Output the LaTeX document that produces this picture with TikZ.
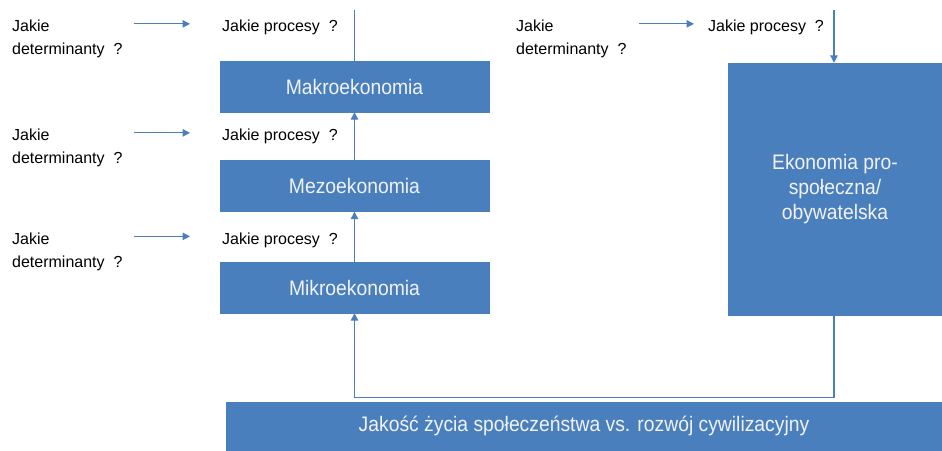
\documentclass[tikz,border=0pt]{standalone}
\usepackage{fontspec}
\setmainfont{Liberation Sans}
\newfontfamily\econfont[FakeStretch=0.92]{Liberation Sans}
\usepackage{tikz}
\usetikzlibrary{
    arrows.meta,
    positioning,
}
\definecolor{econblue}{RGB}{74,127,190}
\definecolor{econtext}{RGB}{242,242,242}
\tikzset{
    econbox/.style = {
        rectangle,
        fill=econblue,
        draw=econblue,
        text=econtext,
        font=\econfont\fontsize{21}{25}\selectfont,
        align=center,
        inner sep=0pt,
    },
    question/.style = {
        font=\fontsize{16}{23}\selectfont,
        align=left,
        inner sep=0pt,
        anchor=base west,
    },
}
\tikzstyle{arrow} = [
    line width=1.2pt,
    draw=econblue,
    ->,
    >={Triangle[length=7.5pt,width=7.5pt]}
]
\tikzstyle{plainline} = [
    line width=1.2pt,
    draw=econblue,
]

\begin{document}
\begin{tikzpicture}[x=1pt,y=-1pt]
        \useasboundingbox (0,0) rectangle (942,450);

        % economy levels
        \node [econbox, minimum width=269pt, minimum height=51pt] (makro) at (354.5,86.5)
        {Makroekonomia};

        \node [econbox, minimum width=269pt, minimum height=51pt] (mezo) at (354.5,186)
        {Mezoekonomia};

        \node [econbox, minimum width=269pt, minimum height=51pt] (mikro) at (354.5,287.5)
        {Mikroekonomia};

        \node [econbox, minimum width=214pt, minimum height=252pt] (prospol) at (835,189)
        {Ekonomia pro-\\społeczna/\\obywatelska};

        \node [econbox, minimum width=716pt, minimum height=48pt] (jakosc) at (584,426)
        {Jakość życia społeczeństwa vs. rozwój cywilizacyjny};

        % questions (base = last line)
        \node [question] (det1) at (12,54.5) {Jakie\\determinanty\ \ ?};
        \node [question] (proc1) at (222,31.5) {Jakie procesy\ \ ?};

        \node [question] (det2) at (12,163.5) {Jakie\\determinanty\ \ ?};
        \node [question] (proc2) at (222,140.5) {Jakie procesy\ \ ?};

        \node [question] (det3) at (12,267) {Jakie\\determinanty\ \ ?};
        \node [question] (proc3) at (222,244) {Jakie procesy\ \ ?};

        \node [question] (det4) at (516,54.5) {Jakie\\determinanty\ \ ?};
        \node [question] (proc4) at (708,31.5) {Jakie procesy\ \ ?};

        \coordinate (topmakro) at (354.5,10);
        \coordinate (topprospol) at (834,10);

        \draw [arrow, shorten <=11pt, shorten >=32pt] ([yshift=3.5pt]proc1.west -| det1.east) -- ([yshift=3.5pt]proc1.west);
        \draw [arrow, shorten <=11pt, shorten >=32pt] ([yshift=3.5pt]proc2.west -| det2.east) -- ([yshift=3.5pt]proc2.west);
        \draw [arrow, shorten <=11pt, shorten >=32pt] ([yshift=3.5pt]proc3.west -| det3.east) -- ([yshift=3.5pt]proc3.west);
        \draw [arrow, shorten <=12pt, shorten >=14pt] ([yshift=3.5pt]proc4.west -| det4.east) -- ([yshift=3.5pt]proc4.west);

        \draw [plainline] (makro) -- (topmakro);
        \draw [arrow] (mezo) -- (makro);
        \draw [arrow] (mikro) -- (mezo);
        \draw [arrow] (topprospol) -- (topprospol |- prospol.north);
        \draw [arrow] (topprospol |- prospol.south) -- ++(0,82) -| (mikro);

    \end{tikzpicture}
\end{document}
